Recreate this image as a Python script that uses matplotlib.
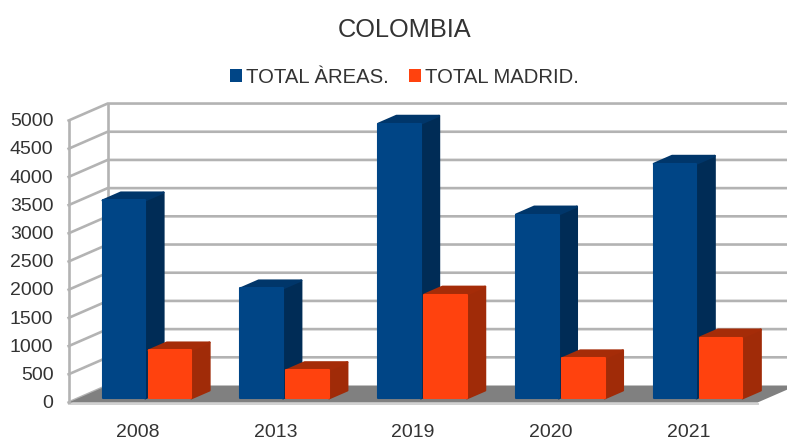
#!/usr/bin/env python3
# COLOMBIA - 3D look column chart, drawn as oblique projection
import matplotlib
matplotlib.use('Agg')
import matplotlib.pyplot as plt
from matplotlib.patches import Polygon, Patch

plt.rcParams['font.family'] = ['Liberation Sans', 'DejaVu Sans']

years = ['2008', '2013', '2019', '2020', '2021']
total_areas = [3510, 1950, 4870, 3260, 4160]
total_madrid = [850, 500, 1840, 710, 1080]
y_ticks = [0, 500, 1000, 1500, 2000, 2500, 3000, 3500, 4000, 4500, 5000]

# depth of the chart box expressed in data units
DX = 0.283
DY = 301
BAR_W = 0.31
GAP = 0.012
D0, D1 = 0.24, 0.71
TXT = '#333333'
GRID = '#b3b3b3'


def pr(x, y, d=0.0):
    return (x + d * DX, y + d * DY)


def box(ax, x0, x1, top, cols):
    front = [pr(x0, 0, D0), pr(x1, 0, D0), pr(x1, top, D0), pr(x0, top, D0)]
    side = [pr(x1, 0, D0), pr(x1, 0, D1), pr(x1, top, D1), pr(x1, top, D0)]
    roof = [pr(x0, top, D0), pr(x1, top, D0), pr(x1, top, D1), pr(x0, top, D1)]
    for pts, c in zip([side, roof, front], cols):
        ax.add_patch(Polygon(pts, closed=True, facecolor=c, edgecolor=c, lw=1.5,
                             joinstyle='round', zorder=5))


fig = plt.figure(figsize=(7.87, 4.41), dpi=100)
ax = fig.add_axes([0, 0, 1, 1])
ax.set_xlim(-0.998, 4.713)
ax.set_ylim(-683, 7137)
ax.axis('off')

left, right = -0.5, len(years) - 0.5

# floor
ax.add_patch(Polygon([pr(left, 0, 0), pr(right, 0, 0), pr(right, 0, 1), pr(left, 0, 1)],
                     closed=True, facecolor='#808080', edgecolor='none', zorder=2))
ax.plot([left, right], [-25, -25], color='#d0d0d0', lw=1.4, zorder=1)

# walls
for v in y_ticks[1:]:
    ax.plot(*zip(pr(left, v, 0), pr(left, v, 1), pr(right, v, 1)), color=GRID, lw=1.9, zorder=3,
            solid_joinstyle='miter')
ax.plot(*zip(pr(left, 0, 0), pr(left, 0, 1)), color=GRID, lw=1.9, zorder=1)
ax.plot(*zip(pr(left, 0, 0), pr(left, y_ticks[-1], 0)), color=GRID, lw=1.9, zorder=3)
ax.plot(*zip(pr(left, 0, 1), pr(left, y_ticks[-1], 1)), color=GRID, lw=1.9, zorder=3)

# bars
for i in range(len(years)):
    box(ax, i - BAR_W - GAP, i - GAP, total_areas[i], ['#002c56', '#00366a', '#004586'])
    box(ax, i + GAP, i + GAP + BAR_W, total_madrid[i], ['#a02b08', '#a52c08', '#ff420e'])

for v in y_ticks:
    ax.text(left - 0.11, v - 20, str(v), ha='right', va='center', fontsize=14, color=TXT)
for i, yr in enumerate(years):
    ax.text(i, -540, yr, ha='center', va='center', fontsize=14, color=TXT)

ax.text(0.514, 0.933, 'COLOMBIA', transform=ax.transAxes, ha='center', va='center',
        fontsize=18.3, color=TXT)

handles = [Patch(facecolor='#004586', label='TOTAL ÀREAS.'),
           Patch(facecolor='#ff420e', label='TOTAL MADRID.')]
ax.legend(handles=handles, loc='center', bbox_to_anchor=(0.514, 0.825), ncol=2, frameon=False,
          fontsize=14.6, labelcolor=TXT, handlelength=0.6, handleheight=0.6,
          handletextpad=0.2, columnspacing=1.0)

plt.savefig('out.png', dpi=100)
plt.close()
